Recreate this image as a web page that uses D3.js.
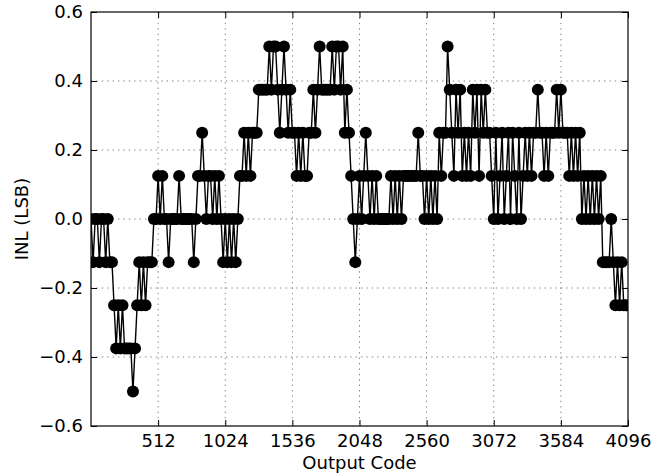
<!DOCTYPE html>
<html>
<head>
<meta charset="utf-8">
<script src="https://cdn.jsdelivr.net/npm/d3@7"></script>
<style>
  html, body { margin: 0; padding: 0; background: #fff; }
  svg { display: block; font-family: "DejaVu Sans", sans-serif; }
</style>
</head>
<body>
<svg id="chart" width="663" height="474"></svg>
<script>
// ---- data ----
const codeStep = 16;                       // sample spacing of output codes
const xTickValues = [512, 1024, 1536, 2048, 2560, 3072, 3584, 4096];
const yTickValues = [-0.6, -0.4, -0.2, 0.0, 0.2, 0.4, 0.6];
const xLabel = "Output Code";
const yLabel = "INL (LSB)";
const inlValues = [
  0,-0.125,0,0,-0.125,0,0,-0.125,0,-0.125,
  -0.125,-0.25,-0.375,-0.25,-0.375,-0.25,-0.375,-0.375,-0.375,-0.375,
  -0.5,-0.375,-0.25,-0.125,-0.25,-0.125,-0.25,-0.125,-0.125,-0.125,
  0,0,0.125,0,0.125,0,0,-0.125,0,0,
  0,0,0.125,0,0,0,0,0,0,-0.125,
  0,0.125,0.125,0.25,0.125,0,0.125,0.125,0,0.125,
  0,0.125,0,-0.125,0,-0.125,0,-0.125,0,-0.125,
  0,0.125,0.125,0.25,0.125,0.25,0.125,0.25,0.25,0.25,
  0.375,0.375,0.375,0.375,0.375,0.5,0.375,0.5,0.5,0.375,
  0.25,0.375,0.5,0.375,0.25,0.375,0.25,0.25,0.125,0.25,
  0.125,0.25,0.125,0.125,0.25,0.25,0.375,0.25,0.375,0.5,
  0.375,0.375,0.375,0.375,0.375,0.5,0.375,0.5,0.5,0.375,
  0.5,0.25,0.375,0.25,0.125,0,-0.125,0,0.125,0,
  0.125,0.25,0.125,0,0.125,0,0.125,0,0,0,
  0,0,0,0.125,0,0.125,0,0.125,0,0.125,
  0.125,0.125,0.125,0.125,0.125,0.125,0.25,0.125,0.125,0,
  0.125,0,0.125,0,0.125,0,0.25,0.125,0.25,0.25,
  0.5,0.375,0.25,0.125,0.375,0.25,0.375,0.125,0.25,0.125,
  0.25,0.125,0.375,0.25,0.375,0.125,0.375,0.25,0.375,0.25,
  0.25,0.125,0,0.25,0,0.125,0.25,0,0.125,0.25,
  0,0.25,0.125,0,0.25,0,0.125,0.25,0.125,0.25,
  0.125,0.25,0.25,0.375,0.25,0.25,0.125,0.25,0.125,0.25,
  0.25,0.25,0.375,0.25,0.375,0.25,0.25,0.25,0.125,0.25,
  0.125,0.25,0.125,0.25,0,0.125,0,0.125,0,0.125,
  0,0.125,0,0.125,-0.125,-0.125,-0.125,-0.125,0,-0.125,
  -0.25,-0.125,-0.25,-0.125,-0.25,-0.25
];
const codes = inlValues.map((_, i) => i * codeStep);
const points = codes.map((c, i) => ({ code: c, inl: inlValues[i] }));

// ---- layout ----
const W = 663, H = 474;
const m = { left: 91, top: 12, right: 663 - 628, bottom: 474 - 426 };
const iw = W - m.left - m.right, ih = H - m.top - m.bottom;
const FONT = 18;

const svg = d3.select("#chart");
const x = d3.scaleLinear().domain([0, 4096]).range([0, iw]);
const y = d3.scaleLinear().domain([-0.6, 0.6]).range([ih, 0]);

const g = svg.append("g").attr("transform", `translate(${m.left},${m.top})`);

// grid
const gridStyle = s => s.attr("stroke", "#000").attr("stroke-width", 0.6)
  .attr("stroke-dasharray", "1.4,4").attr("opacity", 0.8);
g.append("g").selectAll("line").data(xTickValues.filter(v => v < 4096)).join("line")
  .attr("x1", d => x(d)).attr("x2", d => x(d)).attr("y1", 0).attr("y2", ih).call(gridStyle);
g.append("g").selectAll("line").data(yTickValues.filter(v => v > -0.6 && v < 0.6)).join("line")
  .attr("y1", d => y(d)).attr("y2", d => y(d)).attr("x1", 0).attr("x2", iw).call(gridStyle);

// data
svg.append("defs").append("clipPath").attr("id", "clip")
  .append("rect").attr("width", iw).attr("height", ih);
const plot = g.append("g").attr("clip-path", "url(#clip)");
const line = d3.line().x(d => x(d.code)).y(d => y(d.inl));
plot.append("path").datum(points).attr("d", line)
  .attr("fill", "none").attr("stroke", "#000").attr("stroke-width", 1.4);
plot.append("g").selectAll("circle").data(points).join("circle")
  .attr("cx", d => x(d.code)).attr("cy", d => y(d.inl)).attr("r", 6)
  .attr("fill", "#000");

// axes (ticks inward)
const tickLen = 6;
const xAxis = g.append("g").attr("transform", `translate(0,${ih})`)
  .call(d3.axisBottom(x).tickValues(xTickValues).tickFormat(d3.format("d"))
    .tickSize(-tickLen).tickPadding(8));
const xAxisTop = g.append("g")
  .call(d3.axisTop(x).tickValues(xTickValues).tickFormat("").tickSize(-tickLen));
const yAxis = g.append("g")
  .call(d3.axisLeft(y).tickValues(yTickValues).tickFormat(d3.format(".1f"))
    .tickSize(-tickLen).tickPadding(8));
const yAxisRight = g.append("g").attr("transform", `translate(${iw},0)`)
  .call(d3.axisRight(y).tickValues(yTickValues).tickFormat("").tickSize(-tickLen));
[xAxis, xAxisTop, yAxis, yAxisRight].forEach(a => {
  a.select(".domain").remove();
  a.selectAll("line").attr("stroke", "#000").attr("stroke-width", 1);
  a.selectAll("text").attr("font-size", FONT).attr("fill", "#000")
    .attr("font-family", "DejaVu Sans, sans-serif");
});

// frame
g.append("rect").attr("width", iw).attr("height", ih)
  .attr("fill", "none").attr("stroke", "#000").attr("stroke-width", 1.2);

// labels
svg.append("text").attr("x", m.left + iw / 2).attr("y", 469)
  .attr("text-anchor", "middle").attr("font-size", FONT).text(xLabel);
svg.append("text").attr("transform", `translate(28,${m.top + ih / 2}) rotate(-90)`)
  .attr("text-anchor", "middle").attr("font-size", FONT).text(yLabel);
</script>
</body>
</html>
